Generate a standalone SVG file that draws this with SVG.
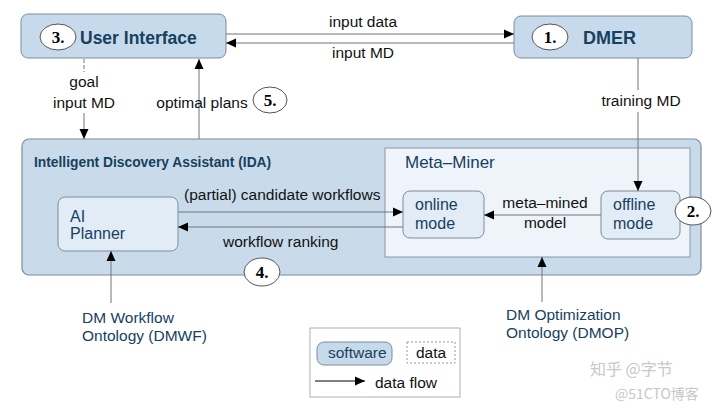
<svg xmlns="http://www.w3.org/2000/svg" width="720" height="406" viewBox="0 0 720 406">
<defs>
<marker id="ah" viewBox="0 0 10 10" refX="10" refY="5" markerWidth="10" markerHeight="10" markerUnits="userSpaceOnUse" orient="auto">
<path d="M0,0.5 L10,5 L0,9.5 z" fill="#000"/>
</marker>
<style>
.sw{fill:#c7daeb;stroke:#7d8c99;stroke-width:1}
.ida{fill:#c9dbeb;stroke:#7d8c99;stroke-width:1.2}
.inner{fill:#e2ecf6;stroke:#7d8c99;stroke-width:1}
.mm{fill:#eef4fa;stroke:#8b98a4;stroke-width:1}
.circ{fill:#fff;stroke:#555;stroke-width:1}
.num{font-family:"Liberation Serif","Times New Roman",serif;font-weight:bold;font-size:17px;fill:#000;text-anchor:middle}
.t{font-family:"Liberation Sans",Arial,sans-serif;font-size:15.5px;fill:#111}
.b{font-family:"Liberation Sans",Arial,sans-serif;fill:#17405f}
.bb{font-family:"Liberation Sans",Arial,sans-serif;font-weight:bold;fill:#17405f}
.ln{stroke:#6f7478;stroke-width:1;fill:none}
.la{stroke:#6f7478;stroke-width:1;fill:none;marker-end:url(#ah)}
.wm{font-family:"Noto Sans CJK SC","Liberation Sans",sans-serif;fill:#c8c8c8}
</style>
</defs>
<rect width="720" height="406" fill="#fff"/>

<g id="ida">
<rect class="ida" x="22" y="139" width="679" height="136" rx="7"/>
<text class="bb" x="34" y="167" font-size="13.8">Intelligent Discovery Assistant (IDA)</text>
</g>

<g id="meta-miner">
<rect class="mm" x="385" y="148" width="305" height="109"/>
<text class="b" x="405" y="168" font-size="17">Meta–Miner</text>
</g>

<g id="user-interface">
<rect class="sw" x="21" y="14" width="205" height="44" rx="7"/>
<ellipse class="circ" cx="58" cy="37" rx="18" ry="13"/>
<text class="num" x="58" y="43">3.</text>
<text class="bb" x="80" y="44" font-size="17.5">User Interface</text>
</g>

<g id="dmer">
<rect class="sw" x="514" y="16" width="178" height="42" rx="7"/>
<ellipse class="circ" cx="550" cy="37" rx="18" ry="13"/>
<text class="num" x="550" y="43">1.</text>
<text class="bb" x="583" y="44" font-size="18">DMER</text>
</g>

<g id="ai-planner">
<rect class="inner" x="58" y="197" width="120" height="54" rx="7"/>
<text class="b" x="70" y="222" font-size="16">AI</text>
<text class="b" x="70" y="239" font-size="16">Planner</text>
</g>

<g id="online-mode">
<rect class="inner" x="403" y="191" width="81" height="47" rx="7"/>
<text class="b" x="415" y="210" font-size="16">online</text>
<text class="b" x="415" y="229" font-size="16">mode</text>
</g>

<g id="offline-mode">
<rect class="inner" x="601" y="191" width="79" height="48" rx="7"/>
<text class="b" x="613" y="210" font-size="16">offline</text>
<text class="b" x="613" y="229" font-size="16">mode</text>
</g>

<g id="badge-2">
<ellipse class="circ" cx="693" cy="211" rx="18" ry="14"/>
<text class="num" x="693" y="217">2.</text>
</g>

<g id="dmwf">
<text class="b" x="82" y="323" font-size="15.5">DM Workflow</text>
<text class="b" x="82" y="341" font-size="15.5">Ontology (DMWF)</text>
</g>

<g id="dmop">
<text class="b" x="506" y="320" font-size="15.5">DM Optimization</text>
<text class="b" x="506" y="338" font-size="15.5">Ontology (DMOP)</text>
</g>

<g id="connectors">
<line class="la" x1="226" y1="34" x2="514" y2="34"/>
<line class="la" x1="514" y1="43" x2="226" y2="43"/>
<text class="t" x="363" y="27" text-anchor="middle">input data</text>
<text class="t" x="363" y="58" text-anchor="middle">input MD</text>

<line class="ln" x1="638" y1="58" x2="638" y2="90"/>
<line class="la" x1="638" y1="112" x2="638" y2="191"/>
<text class="t" x="641" y="106" text-anchor="middle">training MD</text>

<line class="ln" x1="84" y1="59" x2="84" y2="72" stroke-dasharray="4,2"/>
<line class="la" x1="84" y1="113" x2="84" y2="139"/>
<text class="t" x="84" y="87" text-anchor="middle">goal</text>
<text class="t" x="84" y="108" text-anchor="middle">input MD</text>

<line class="la" x1="199" y1="139" x2="199" y2="59"/>
<text class="t" x="202" y="108" text-anchor="middle">optimal plans</text>
<ellipse class="circ" cx="270" cy="100" rx="17" ry="13"/>
<text class="num" x="270" y="106">5.</text>

<line class="la" x1="178" y1="212" x2="403" y2="212"/>
<text class="t" x="184" y="200">(partial) candidate workflows</text>
<line class="la" x1="403" y1="227" x2="178" y2="227"/>
<text class="t" x="223" y="247">workflow ranking</text>
<ellipse class="circ" cx="262" cy="272" rx="18" ry="14"/>
<text class="num" x="262" y="278">4.</text>

<line class="la" x1="601" y1="215" x2="484" y2="215"/>
<text class="t" x="545" y="208" text-anchor="middle">meta–mined</text>
<text class="t" x="545" y="228" text-anchor="middle">model</text>

<line class="la" x1="111" y1="303" x2="111" y2="251"/>
<line class="la" x1="542" y1="302" x2="542" y2="257"/>
</g>

<g id="legend">
<rect x="310" y="328" width="150" height="69" fill="#fff" stroke="#aab2b9" stroke-width="1"/>
<rect class="sw" x="317" y="342" width="75" height="23" rx="7"/>
<text class="b" x="328" y="358" font-size="15.5">software</text>
<rect x="407" y="342" width="48" height="21" fill="none" stroke="#999" stroke-width="1" stroke-dasharray="2,2"/>
<text class="t" x="416" y="358">data</text>
<line x1="315" y1="381" x2="365" y2="381" stroke="#000" stroke-width="1" marker-end="url(#ah)"/>
<text class="t" x="375" y="388">data flow</text>
</g>

<g id="watermark">
<text class="wm" x="590" y="375" font-size="16">知乎 @字节</text>
<text class="wm" x="615" y="399" font-size="14">@51CTO博客</text>
</g>
</svg>
